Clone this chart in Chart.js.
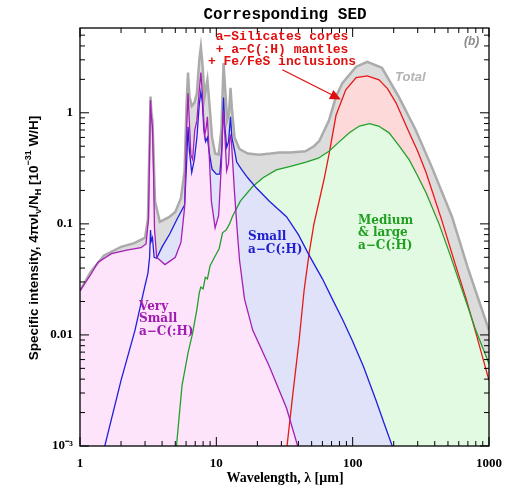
<!DOCTYPE html>
<html>
<head>
<meta charset="utf-8">
<script src="https://cdn.jsdelivr.net/npm/chart.js@4.4.1/dist/chart.umd.min.js"></script>
<style>
html, body { margin: 0; padding: 0; background: #fff; }
#wrap { width: 512px; height: 489px; }
</style>
</head>
<body>
<div id="wrap"><canvas id="sedChart" width="512" height="489"></canvas></div>
<script>
// wavelength [micron] / specific intensity, one pair of arrays per grain population

const vsgLam = [1.0, 1.2, 1.35, 1.7, 2.2, 2.8, 3.05, 3.18, 3.24, 3.29, 3.33, 3.4, 3.46, 3.52, 3.65, 4.2, 5.0, 5.5, 5.85, 6.05, 6.2, 6.32, 6.5, 6.7, 6.95, 7.2, 7.5, 7.7, 7.9, 8.2, 8.45, 8.6, 8.8, 9.2, 9.8, 10.4, 10.9, 11.15, 11.3, 11.5, 11.9, 12.3, 12.55, 12.7, 12.9, 13.2, 13.6, 14.2, 14.8, 16.1, 18.5, 24.5, 32.7, 39.5];
const vsgVal = [0.025, 0.035, 0.045, 0.054, 0.058, 0.061, 0.066, 0.11, 0.45, 1.3, 0.95, 0.75, 0.3, 0.09, 0.05, 0.043, 0.05, 0.068, 0.14, 0.7, 1.5, 0.9, 0.42, 0.38, 0.7, 0.85, 1.6, 2.3, 1.5, 0.62, 0.75, 0.92, 0.5, 0.16, 0.092, 0.12, 0.35, 0.8, 1.05, 0.7, 0.3, 0.35, 0.6, 0.62, 0.55, 0.35, 0.19, 0.09, 0.047, 0.021, 0.011, 0.0052, 0.0022, 0.001];

const smallLam = [1.52, 2.0, 2.53, 2.98, 3.15, 3.24, 3.29, 3.33, 3.4, 3.5, 3.65, 4.0, 4.55, 5.2, 5.85, 6.05, 6.2, 6.35, 6.6, 6.9, 7.2, 7.5, 7.7, 7.9, 8.1, 8.35, 8.6, 8.85, 9.3, 10.0, 10.6, 11.0, 11.3, 11.5, 11.9, 12.3, 12.7, 13.0, 13.6, 14.1, 15.3, 17.0, 19.7, 24.5, 32.7, 40, 48, 60, 71, 85, 99, 120, 148, 170, 195];
const smallVal = [0.001, 0.0039, 0.011, 0.027, 0.036, 0.05, 0.088, 0.07, 0.075, 0.05, 0.049, 0.062, 0.081, 0.113, 0.148, 0.35, 0.75, 0.45, 0.29, 0.38, 0.6, 1.2, 1.55, 1.23, 0.7, 0.55, 0.6, 0.45, 0.31, 0.28, 0.28, 0.5, 1.37, 0.8, 0.49, 0.55, 0.92, 0.6, 0.46, 0.36, 0.31, 0.26, 0.21, 0.16, 0.116, 0.08, 0.052, 0.032, 0.021, 0.0135, 0.009, 0.0052, 0.0026, 0.0016, 0.001];

const largeLam = [5.1, 5.6, 6.2, 6.7, 7.2, 7.5, 7.7, 8.0, 8.3, 8.6, 9.0, 9.7, 10.5, 11.1, 11.8, 12.5, 13.1, 15, 18.4, 22, 27.5, 35, 45.5, 56, 67, 80, 94.5, 112, 133, 155, 185, 220, 260, 300, 346, 430, 520, 673, 800, 1000];
const largeVal = [0.001, 0.0035, 0.0069, 0.0104, 0.017, 0.024, 0.027, 0.026, 0.033, 0.032, 0.042, 0.05, 0.06, 0.083, 0.088, 0.1, 0.116, 0.16, 0.216, 0.26, 0.306, 0.33, 0.36, 0.39, 0.45, 0.55, 0.66, 0.76, 0.80, 0.76, 0.66, 0.5, 0.377, 0.27, 0.19, 0.10, 0.052, 0.0206, 0.011, 0.0055];

const silLam = [33, 36, 40.5, 44, 48, 52, 57, 62, 67, 75.5, 89, 106, 128, 156, 180, 208, 260, 300, 346, 450, 560, 673, 800, 1000];
const silVal = [0.001, 0.0026, 0.009, 0.025, 0.055, 0.1, 0.164, 0.26, 0.42, 0.95, 1.61, 2.07, 2.15, 1.98, 1.65, 1.23, 0.66, 0.45, 0.288, 0.108, 0.045, 0.022, 0.0105, 0.0039];

const totalLam = [1.0, 1.2, 1.5, 2.0, 2.5, 3.0, 3.15, 3.22, 3.29, 3.33, 3.4, 3.47, 3.55, 3.85, 4.5, 5.0, 5.5, 5.85, 6.05, 6.2, 6.35, 6.6, 6.9, 7.2, 7.5, 7.7, 7.9, 8.2, 8.6, 8.9, 9.3, 9.8, 10.4, 10.9, 11.3, 11.55, 12.0, 12.4, 12.7, 13.0, 13.6, 14.8, 17, 20.6, 25, 29, 35, 45, 52, 57, 67, 75.5, 84, 106, 128, 164, 218, 290, 380, 535, 700, 1000];
const totalVal = [0.025, 0.037, 0.052, 0.062, 0.067, 0.075, 0.11, 0.4, 1.4, 1.05, 0.85, 0.4, 0.16, 0.104, 0.115, 0.128, 0.17, 0.3, 1.2, 2.3, 1.4, 1.15, 1.23, 1.5, 3.0, 3.9, 2.8, 1.4, 1.98, 1.2, 0.6, 0.43, 0.42, 0.7, 2.8, 1.8, 0.86, 1.0, 1.68, 1.1, 0.6, 0.47, 0.43, 0.42, 0.43, 0.44, 0.44, 0.45, 0.5, 0.56, 0.85, 1.4, 1.85, 2.6, 2.88, 2.54, 1.39, 0.70, 0.326, 0.116, 0.04, 0.011];

const xDecades = [1, 10, 100, 1000];
const yDecades = [0.001, 0.01, 0.1, 1];

function pts(lam, val){
    return lam.map((l, i) => ({ x: l, y: val[i] }));
}

function isDecade(v){
    const e = Math.log10(v);
    return Math.abs(e - Math.round(e)) < 1e-9;
}

// rich text with sub / superscripts, centred on (0,0)
function richText(ctx, parts, size, family){
    const big = "bold " + size + "px " + family;
    const small = "bold " + Math.round(size * 0.7) + "px " + family;
    ctx.textAlign = "left";
    let w = 0;
    parts.forEach(p => { ctx.font = p[1] ? small : big; w += ctx.measureText(p[0]).width; });
    let xx = -w / 2;
    parts.forEach(p => {
        ctx.font = p[1] ? small : big;
        const dy = p[1] === 1 ? size * 0.3 : (p[1] === 2 ? -size * 0.4 : 0);
        ctx.fillText(p[0], xx, dy);
        xx += ctx.measureText(p[0]).width;
    });
}

const framePlugin = {
    id: "framePlugin",
    afterDraw(chart){
        const ctx = chart.ctx;
        const a = chart.chartArea;
        const xs = chart.scales.x;
        const ys = chart.scales.y;
        ctx.save();

        // frame + inward ticks on all four sides
        ctx.strokeStyle = "#000";
        ctx.lineWidth = 1.3;
        ctx.strokeRect(a.left, a.top, a.right - a.left, a.bottom - a.top);
        ctx.lineWidth = 1;
        ctx.beginPath();
        xDecades.forEach(d => {
            for(let k = 1; k <= 9; k++){
                const v = d * k;
                if(v > 1000) break;
                const p = xs.getPixelForValue(v);
                const len = k === 1 ? 9 : 5;
                ctx.moveTo(p, a.bottom); ctx.lineTo(p, a.bottom - len);
                ctx.moveTo(p, a.top); ctx.lineTo(p, a.top + len);
            }
        });
        yDecades.forEach(d => {
            for(let k = 1; k <= 9; k++){
                const v = d * k;
                if(v > ys.max) break;
                const p = ys.getPixelForValue(v);
                const len = k === 1 ? 9 : 5;
                ctx.moveTo(a.left, p); ctx.lineTo(a.left + len, p);
                ctx.moveTo(a.right, p); ctx.lineTo(a.right - len, p);
            }
        });
        ctx.stroke();

        ctx.textAlign = "center";
        ctx.textBaseline = "middle";

        // title
        ctx.fillStyle = "#000";
        ctx.font = "bold 16px 'Liberation Mono'";
        ctx.fillText("Corresponding SED", 285, 15);

        // x title
        ctx.font = "bold 14px 'Liberation Serif'";
        ctx.fillText("Wavelength, \u03bb [\u03bcm]", 285, 478);

        // y title
        ctx.save();
        ctx.translate(34, 238);
        ctx.rotate(-Math.PI / 2);
        richText(ctx, [
            ["Specific intensity, 4\u03c0\u03bdI", 0], ["\u03bd", 1], ["/N", 0], ["H", 1],
            [" [10", 0], ["\u221231", 2], [" W/H]", 0]
        ], 13.5, "'Liberation Sans'");
        ctx.restore();
        ctx.textAlign = "center";

        // silicate label + arrow
        ctx.fillStyle = "#e01010";
        ctx.font = "bold 13px 'Liberation Mono'";
        ctx.fillText("a\u2212Silicates cores", 282, 37);
        ctx.fillText("+ a\u2212C(:H) mantles", 282, 50);
        ctx.fillText("+ Fe/FeS inclusions", 282, 62);

        const x0 = xs.getPixelForValue(30.5), y0 = ys.getPixelForValue(2.44);
        const x1 = xs.getPixelForValue(82), y1 = ys.getPixelForValue(1.32);
        const ang = Math.atan2(y1 - y0, x1 - x0);
        ctx.strokeStyle = "#e01010";
        ctx.lineWidth = 1.3;
        ctx.beginPath();
        ctx.moveTo(x0, y0);
        ctx.lineTo(x1 - 8 * Math.cos(ang), y1 - 8 * Math.sin(ang));
        ctx.stroke();
        ctx.beginPath();
        ctx.moveTo(x1, y1);
        ctx.lineTo(x1 - 11 * Math.cos(ang) + 5 * Math.sin(ang), y1 - 11 * Math.sin(ang) - 5 * Math.cos(ang));
        ctx.lineTo(x1 - 11 * Math.cos(ang) - 5 * Math.sin(ang), y1 - 11 * Math.sin(ang) + 5 * Math.cos(ang));
        ctx.closePath();
        ctx.fillStyle = "#e01010";
        ctx.fill();

        // Total / panel tag
        ctx.textAlign = "left";
        ctx.fillStyle = "#b4b4b4";
        ctx.font = "italic bold 13px 'Liberation Sans'";
        ctx.fillText("Total", 395, 77);
        ctx.fillStyle = "#8c8c8c";
        ctx.font = "italic bold 12px 'Liberation Sans'";
        ctx.fillText("(b)", 464, 42);

        // component labels
        ctx.font = "bold 12px 'DejaVu Serif'";
        ctx.fillStyle = "#a01cb0";
        ctx.fillText("Very", 139, 307);
        ctx.fillText("Small", 139, 319);
        ctx.fillText("a\u2212C(:H)", 139, 332);

        ctx.fillStyle = "#2020d0";
        ctx.fillText("Small", 248, 237);
        ctx.fillText("a\u2212C(:H)", 248, 250);

        ctx.fillStyle = "#20a020";
        ctx.fillText("Medium", 358, 221);
        ctx.fillText("& large", 358, 233);
        ctx.fillText("a\u2212C(:H)", 358, 246);

        ctx.restore();
    }
};

const ctx = document.getElementById("sedChart");

new Chart(ctx, {

    type: "line",

    data: {

        datasets: [

            {
                label: "Very small a-C(:H)",
                data: pts(vsgLam, vsgVal),
                borderColor: "#a51eb5",
                backgroundColor: "#fde4fb",
                borderWidth: 1.3,
                fill: "start"
            },

            {
                label: "Small a-C(:H)",
                data: pts(smallLam, smallVal),
                borderColor: "#1f1fe0",
                backgroundColor: "#dfe2f9",
                borderWidth: 1.3,
                fill: "start"
            },

            {
                label: "Medium & large a-C(:H)",
                data: pts(largeLam, largeVal),
                borderColor: "#22a02a",
                backgroundColor: "#e2fae2",
                borderWidth: 1.3,
                fill: "start"
            },

            {
                label: "a-Silicates",
                data: pts(silLam, silVal),
                borderColor: "#e81818",
                backgroundColor: "#fdd9d9",
                borderWidth: 1.3,
                fill: "start"
            },

            {
                label: "Total",
                data: pts(totalLam, totalVal),
                borderColor: "#ababab",
                backgroundColor: "#dcdcdc",
                borderWidth: 2.5,
                fill: "start"
            }

        ]

    },

    options: {

        responsive: false,

        animation: false,

        layout: {
            padding: { left: 0, right: 22, top: 28, bottom: 0 }
        },

        elements: {
            point: { radius: 0 },
            line: { tension: 0 }
        },

        plugins: {
            legend: { display: false },
            tooltip: { enabled: false },
            filler: { drawTime: "beforeDatasetsDraw" }
        },

        scales: {

            x: {
                type: "logarithmic",
                min: 1,
                max: 1000,
                afterFit(s){ s.height = 43; },
                grid: { display: false, drawTicks: false },
                border: { display: false },
                ticks: {
                    autoSkip: false,
                    maxRotation: 0,
                    padding: 10,
                    color: "#000",
                    font: { family: "'Liberation Serif'", weight: "bold", size: 13 },
                    callback: v => isDecade(v) ? String(v) : ""
                }
            },

            y: {
                type: "logarithmic",
                min: 0.001,
                max: 5.8,
                afterFit(s){ s.width = 80; },
                grid: { display: false, drawTicks: false },
                border: { display: false },
                ticks: {
                    autoSkip: false,
                    padding: 7,
                    color: "#000",
                    font: { family: "'Liberation Serif'", weight: "bold", size: 13 },
                    callback: v => {
                        if(!isDecade(v)) return "";
                        if(Math.abs(v - 0.001) < 1e-9) return "10\u207b\u00b3";
                        return String(Number(v.toPrecision(3)));
                    }
                }
            }

        }

    },

    plugins: [framePlugin]

});
</script>
</body>
</html>
